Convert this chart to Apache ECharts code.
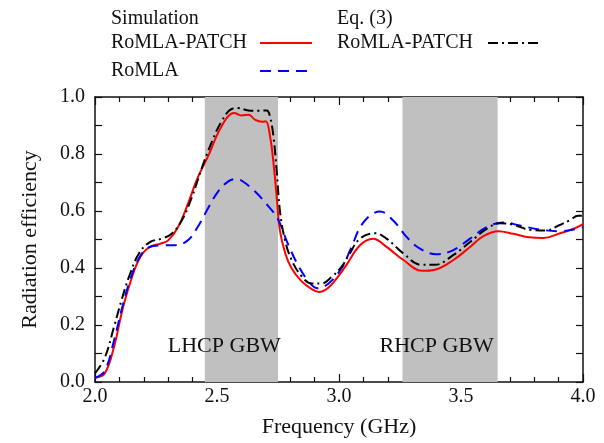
<!DOCTYPE html>
<html>
<head>
<meta charset="utf-8">
<title>Radiation efficiency</title>
<script src="https://cdn.jsdelivr.net/npm/echarts@6/dist/echarts.min.js"></script>
<style>
  html, body { margin: 0; padding: 0; background: #fff; }
  #chart { width: 604px; height: 443px; }
</style>
</head>
<body>
<div id="chart"></div>
<script>
// Radiation efficiency vs. frequency (GHz)

// Simulated RoMLA-PATCH
const patchSimFreq = [2.0, 2.04, 2.08, 2.11, 2.14, 2.18, 2.22, 2.27, 2.30, 2.34, 2.38, 2.42, 2.465, 2.505, 2.545, 2.57, 2.60, 2.63, 2.655, 2.685, 2.70, 2.717, 2.731, 2.745, 2.758, 2.78, 2.805, 2.845, 2.89, 2.918, 2.956, 2.997, 3.03, 3.086, 3.14, 3.195, 3.264, 3.34, 3.393, 3.469, 3.537, 3.59, 3.653, 3.714, 3.77, 3.837, 3.906, 3.96, 4.0];
const patchSimEff = [0.015, 0.03, 0.13, 0.245, 0.337, 0.43, 0.472, 0.486, 0.497, 0.543, 0.623, 0.715, 0.795, 0.875, 0.932, 0.944, 0.935, 0.938, 0.921, 0.913, 0.915, 0.864, 0.772, 0.646, 0.53, 0.451, 0.40, 0.355, 0.325, 0.316, 0.331, 0.371, 0.41, 0.48, 0.503, 0.474, 0.428, 0.39, 0.394, 0.428, 0.474, 0.511, 0.529, 0.52, 0.509, 0.505, 0.522, 0.537, 0.554];

// Simulated RoMLA
const romlaSimFreq = [2.0, 2.04, 2.08, 2.11, 2.14, 2.18, 2.22, 2.27, 2.33, 2.38, 2.42, 2.465, 2.505, 2.545, 2.575, 2.60, 2.655, 2.71, 2.75, 2.79, 2.835, 2.875, 2.91, 2.956, 3.011, 3.046, 3.10, 3.168, 3.223, 3.277, 3.332, 3.40, 3.469, 3.537, 3.605, 3.673, 3.741, 3.823, 3.906, 3.96, 4.0];
const romlaSimEff = [0.015, 0.039, 0.153, 0.257, 0.348, 0.434, 0.472, 0.479, 0.48, 0.497, 0.543, 0.612, 0.669, 0.703, 0.712, 0.707, 0.669, 0.617, 0.571, 0.486, 0.405, 0.354, 0.329, 0.345, 0.40, 0.463, 0.56, 0.598, 0.566, 0.509, 0.468, 0.448, 0.463, 0.503, 0.543, 0.56, 0.549, 0.535, 0.529, 0.535, 0.543];

// RoMLA-PATCH from Eq. (3)
const patchEqFreq = [2.0, 2.04, 2.08, 2.11, 2.14, 2.18, 2.225, 2.273, 2.314, 2.355, 2.396, 2.437, 2.478, 2.519, 2.56, 2.587, 2.628, 2.669, 2.704, 2.717, 2.731, 2.745, 2.758, 2.779, 2.806, 2.847, 2.888, 2.929, 2.97, 3.011, 3.04, 3.086, 3.148, 3.195, 3.264, 3.339, 3.393, 3.469, 3.537, 3.605, 3.66, 3.714, 3.783, 3.85, 3.90, 3.947, 3.98, 4.0];
const patchEqEff = [0.03, 0.085, 0.2, 0.291, 0.371, 0.451, 0.491, 0.503, 0.52, 0.566, 0.646, 0.749, 0.841, 0.915, 0.958, 0.961, 0.953, 0.952, 0.953, 0.932, 0.864, 0.738, 0.6, 0.497, 0.428, 0.371, 0.346, 0.346, 0.369, 0.405, 0.445, 0.503, 0.522, 0.503, 0.451, 0.411, 0.411, 0.446, 0.491, 0.537, 0.557, 0.552, 0.534, 0.532, 0.549, 0.568, 0.583, 0.583];

// Gain bandwidth regions (GHz)
const bandNames = ['LHCP GBW', 'RHCP GBW'];
const bandStart = [2.45, 3.26];
const bandEnd = [2.75, 3.65];

// Axis ranges
const freqRange = [2.0, 4.0];
const effRange = [0.0, 1.0];

const FONT = '"Liberation Serif", "Times New Roman", serif';
const INK = '#111';

const pairs = (xs, ys) => xs.map((x, i) => [x, ys[i]]);

const displayName = {
  'RoMLA-PATCH (simulation)': 'RoMLA-PATCH',
  'RoMLA (simulation)': 'RoMLA',
  'RoMLA-PATCH (Eq. (3))': 'RoMLA-PATCH'
};

const chart = echarts.init(document.getElementById('chart'), null, { renderer: 'canvas' });

const axisCommon = {
  type: 'value',
  axisLine: { show: true, onZero: false, lineStyle: { color: INK, width: 1.5 } },
  axisTick: { show: true, inside: true, lineStyle: { color: INK, width: 1.2 } },
  minorTick: { show: true, lineStyle: { color: INK, width: 1.2 } },
  splitLine: { show: false },
  minorSplitLine: { show: false }
};

const xBase = Object.assign({}, axisCommon, {
  min: freqRange[0], max: freqRange[1], interval: 0.5,
  axisTick: Object.assign({}, axisCommon.axisTick, { length: 8 }),
  minorTick: Object.assign({}, axisCommon.minorTick, { splitNumber: 5, length: 5 })
});
const yBase = Object.assign({}, axisCommon, {
  min: effRange[0], max: effRange[1], interval: 0.2,
  axisTick: Object.assign({}, axisCommon.axisTick, { length: 7 }),
  minorTick: Object.assign({}, axisCommon.minorTick, { splitNumber: 2, length: 7 })
});

const legendRich = (w) => ({
  a: { width: w, align: 'left', fontFamily: FONT, fontSize: 20, color: INK, lineHeight: 22 }
});

// legend keys show only the line stroke, the marker dot is hidden
const legendCommon = {
  orient: 'vertical', align: 'right', top: 33,
  itemWidth: 52, itemHeight: 14, itemGap: 8, padding: 0,
  selectedMode: false,
  itemStyle: { opacity: 0 },
  formatter: (n) => '{a|' + displayName[n] + '}'
};

const option = {
  animation: false,
  backgroundColor: '#fff',
  grid: { left: 95, right: 21, top: 97, bottom: 55, containLabel: false },
  graphic: [
    { type: 'text', left: 111, top: 9, style: { text: 'Simulation', font: '20px ' + FONT, fill: INK } },
    { type: 'text', left: 337, top: 9, style: { text: 'Eq. (3)', font: '20px ' + FONT, fill: INK } }
  ],
  legend: [
    Object.assign({}, legendCommon, {
      data: ['RoMLA-PATCH (simulation)', 'RoMLA (simulation)'],
      left: 111,
      textStyle: { rich: legendRich(144) }
    }),
    Object.assign({}, legendCommon, {
      data: ['RoMLA-PATCH (Eq. (3))'],
      left: 337,
      textStyle: { rich: legendRich(146) }
    })
  ],
  xAxis: [
    Object.assign({}, xBase, {
      position: 'bottom',
      name: 'Frequency (GHz)', nameLocation: 'middle', nameGap: 34,
      nameTextStyle: { fontFamily: FONT, fontSize: 22, color: INK },
      axisLabel: { show: true, margin: 5, fontFamily: FONT, fontSize: 20, color: INK,
        formatter: (v) => v.toFixed(1) }
    }),
    Object.assign({}, xBase, { position: 'top', axisLabel: { show: false } })
  ],
  yAxis: [
    Object.assign({}, yBase, {
      position: 'left',
      name: 'Radiation efficiency', nameLocation: 'middle', nameGap: 54,
      nameTextStyle: { fontFamily: FONT, fontSize: 22, color: INK },
      axisLabel: { show: true, margin: 10, fontFamily: FONT, fontSize: 20, color: INK,
        formatter: (v) => v.toFixed(1) }
    }),
    Object.assign({}, yBase, { position: 'right', axisLabel: { show: false } })
  ],
  series: [
    {
      // shaded gain-bandwidth regions and their captions
      name: 'bands', type: 'line', data: [], z: 1, silent: true,
      markArea: {
        silent: true,
        itemStyle: { color: '#c0c0c0', opacity: 1 },
        label: { show: false },
        data: bandNames.map((n, i) => [{ xAxis: bandStart[i] }, { xAxis: bandEnd[i] }])
      },
      markPoint: {
        silent: true, symbol: 'circle', symbolSize: 0,
        label: { show: true, position: 'inside', formatter: '{b}',
          fontFamily: FONT, fontSize: 22, color: INK },
        data: [
          { name: bandNames[0], coord: [2.53, 0.125] },
          { name: bandNames[1], coord: [3.40, 0.125] }
        ]
      }
    },
    {
      name: 'RoMLA-PATCH (simulation)', type: 'line', z: 3,
      data: pairs(patchSimFreq, patchSimEff),
      showSymbol: false, symbol: 'none', smooth: 0.4,
      itemStyle: { color: '#ff0000' },
      lineStyle: { color: '#ff0000', width: 2, type: 'solid' }
    },
    {
      name: 'RoMLA (simulation)', type: 'line', z: 3,
      data: pairs(romlaSimFreq, romlaSimEff),
      showSymbol: false, symbol: 'none', smooth: 0.4,
      itemStyle: { color: '#0000ff' },
      lineStyle: { color: '#0000ff', width: 2, type: [11, 7] }
    },
    {
      name: 'RoMLA-PATCH (Eq. (3))', type: 'line', z: 4,
      data: pairs(patchEqFreq, patchEqEff),
      showSymbol: false, symbol: 'none', smooth: 0.4,
      itemStyle: { color: '#000000' },
      lineStyle: { color: '#000000', width: 2, type: [10, 4, 2, 4] }
    }
  ]
};

chart.setOption(option);
</script>
</body>
</html>
